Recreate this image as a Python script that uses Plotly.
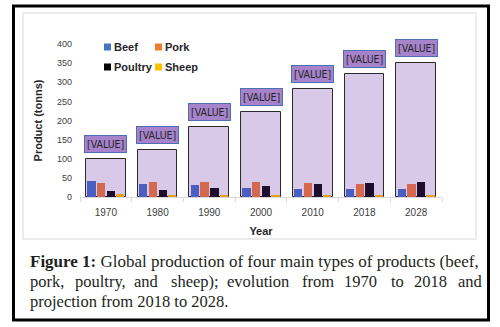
import plotly.graph_objects as go

years = ["1970", "1980", "1990", "2000", "2010", "2018", "2028"]
total = [100, 122, 183, 222, 282, 321, 350]
beef = [41, 34, 32, 24, 22, 21, 21]
pork = [37, 39, 39, 39, 37, 34, 34]
poultry = [15, 18, 23, 30, 33, 37, 39]
sheep = [8, 6, 6, 6, 6, 6, 6]
value_label = "[VALUE]"
yticks = [0, 50, 100, 150, 200, 250, 300, 350, 400]

W, H = 500, 327
L, R, T, B = 80, 58, 44, 130
PW, PH = W - L - R, H - T - B


def px(x):
    return (x - L) / PW


def py(y):
    return (H - B - y) / PH


fig = go.Figure()
fig.add_trace(go.Bar(
    x=years, y=total, width=0.77, offset=-0.385,
    marker=dict(color="#d9c9e8", line=dict(color="#2b2b2b", width=1)),
    showlegend=False, hoverinfo="skip"))

series = [
    ("Beef", beef, "#4a5fc1", -0.36, "#4472c4"),
    ("Pork", pork, "#d4694f", -0.17, "#ed7d31"),
    ("Poultry", poultry, "#1f0d2e", 0.02, "#000000"),
    ("Sheep", sheep, "#e8a020", 0.20, "#ffc000"),
]
for name, vals, col, off, lcol in series:
    fig.add_trace(go.Bar(
        x=years, y=vals, width=0.16, offset=off, name=name,
        marker=dict(color=col, line=dict(width=0)), showlegend=False))

for i, tv in enumerate(total):
    fig.add_annotation(
        x=i, y=tv, text=value_label, showarrow=False, yanchor="bottom", yshift=6,
        bgcolor="#a783cb", bordercolor="#4a6fb5", borderwidth=1, borderpad=2,
        font=dict(family="Liberation Sans Narrow, DejaVu Sans Condensed, Liberation Sans",
                  size=10.5, color="#262626"))

# custom legend (2 x 2)
leg_pos = [(104, 47), (155, 47), (104, 67), (155, 67)]
for (name, vals, col, off, lcol), (lx, ly) in zip(series, leg_pos):
    fig.add_shape(type="rect", xref="paper", yref="paper",
                  x0=px(lx), x1=px(lx + 7), y0=py(ly + 3.5), y1=py(ly - 3.5),
                  fillcolor=lcol, line=dict(width=0))
    fig.add_annotation(xref="paper", yref="paper", x=px(lx + 8), y=py(ly), xanchor="left",
                       yanchor="middle", text="<b>" + name + "</b>", showarrow=False,
                       font=dict(family="Liberation Sans", size=11, color="#262626"))

# caption
cap_font = dict(family="Liberation Serif", size=16.5, color="#231f20")
fig.add_annotation(
    xref="paper", yref="paper", x=px(29), y=py(261), xanchor="left", yanchor="middle",
    text="<b>Figure 1:</b> Global production of four main types of products (beef,",
    showarrow=False, font=dict(family="Liberation Serif", size=17, color="#231f20"), xshift=-1)
line2 = [("pork,", 29), ("poultry,", 74), ("and", 133), ("sheep);", 170), ("evolution", 226),
         ("from", 301), ("1970", 343), ("to", 390), ("2018", 413), ("and", 457)]
for w, xx in line2:
    fig.add_annotation(
        xref="paper", yref="paper", x=px(xx), y=py(281), xanchor="left", yanchor="middle",
        text=w, showarrow=False, font=cap_font, xshift=-1)
fig.add_annotation(
    xref="paper", yref="paper", x=px(29), y=py(301), xanchor="left", yanchor="middle",
    text="projection from 2018 to 2028.", showarrow=False, font=cap_font, xshift=-1)

# frames
fig.add_shape(type="rect", xref="paper", yref="paper", x0=px(23), x1=px(476), y0=py(239), y1=py(13),
              line=dict(color="#d9d9d9", width=1), layer="below")
fig.add_shape(type="rect", xref="paper", yref="paper", x0=px(13.5), x1=px(488.5), y0=py(320), y1=py(6),
              line=dict(color="#000000", width=3))

fig.update_layout(
    width=W, height=H, margin=dict(l=L, r=R, t=T, b=B),
    paper_bgcolor="white", plot_bgcolor="white",
    barmode="overlay", bargap=0, showlegend=False,
    xaxis=dict(type="category", showgrid=False, showline=True, linecolor="#d9d9d9", linewidth=1,
               ticks="outside", tickson="boundaries", ticklen=4, tickcolor="#d9d9d9",
               ticklabelstandoff=6, automargin=False,
               tickfont=dict(family="Liberation Sans", size=10, color="#404040"),
               title=dict(text="<b>Year</b>", font=dict(family="Liberation Sans", size=11, color="#262626"),
                          standoff=10),
               range=[-0.5, 6.5]),
    yaxis=dict(range=[0, 400], tickvals=yticks, showgrid=False, zeroline=False, showline=False,
               ticklabelstandoff=7, automargin=False,
               tickfont=dict(family="Liberation Sans", size=9, color="#404040"),
               title=dict(text="<b>Product (tonns)</b>", font=dict(family="Liberation Sans", size=11, color="#262626"),
                          standoff=12)),
)

fig.write_html("out.html", config={"displayModeBar": False},
               post_script="document.body.style.margin='0px';")
